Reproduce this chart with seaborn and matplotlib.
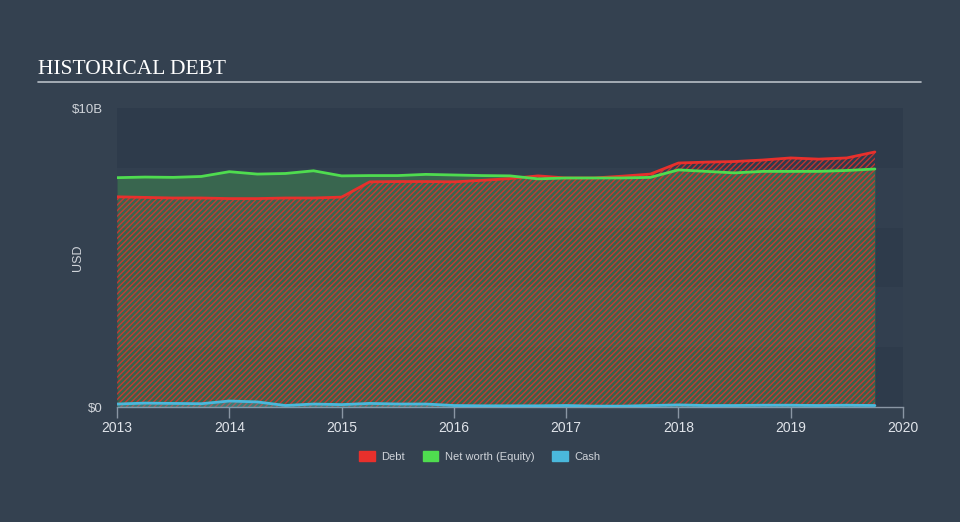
import matplotlib
matplotlib.use("Agg")
import matplotlib.pyplot as plt
import seaborn as sns
import pandas as pd
from matplotlib.patches import Patch

# quarterly points, decimal years
years = [2013.0, 2013.25, 2013.5, 2013.75, 2014.0, 2014.25, 2014.5, 2014.75,
         2015.0, 2015.25, 2015.5, 2015.75, 2016.0, 2016.25, 2016.5, 2016.75,
         2017.0, 2017.25, 2017.5, 2017.75, 2018.0, 2018.25, 2018.5, 2018.75,
         2019.0, 2019.25, 2019.5, 2019.75]

# values in $B
debt = [7.03, 7.01, 6.99, 6.99, 6.97, 6.97, 6.99, 6.99,
        7.02, 7.53, 7.54, 7.54, 7.53, 7.58, 7.64, 7.73,
        7.66, 7.66, 7.72, 7.79, 8.16, 8.19, 8.21, 8.26,
        8.33, 8.29, 8.33, 8.53]
equity = [7.67, 7.69, 7.68, 7.71, 7.87, 7.79, 7.81, 7.90,
          7.73, 7.74, 7.74, 7.78, 7.76, 7.74, 7.73, 7.63,
          7.66, 7.66, 7.66, 7.68, 7.93, 7.88, 7.83, 7.88,
          7.88, 7.88, 7.91, 7.96]
cash = [0.10, 0.13, 0.12, 0.11, 0.20, 0.17, 0.05, 0.10,
        0.08, 0.12, 0.10, 0.10, 0.05, 0.04, 0.04, 0.04,
        0.05, 0.03, 0.03, 0.05, 0.07, 0.05, 0.05, 0.06,
        0.06, 0.05, 0.06, 0.05]

xticks = [2013, 2014, 2015, 2016, 2017, 2018, 2019, 2020]
yticks = [0, 10]
ytick_labels = ["$0", "$10B"]

df = pd.DataFrame({"year": years, "Debt": debt, "Equity": equity, "Cash": cash})

bg = "#344150"
red = "#e8302c"
green = "#4fdc4f"
blue = "#4ab8dc"

sns.set_style("dark")
plt.rcParams["font.family"] = ["Liberation Sans", "DejaVu Sans"]
plt.rcParams["hatch.linewidth"] = 1.0
plt.rcParams["hatch.color"] = red

fig = plt.figure(figsize=(9.6, 5.22), dpi=100, facecolor=bg)
ax = fig.add_axes([0.1219, 0.2203, 0.8187, 0.5728])
ax.set_facecolor(bg)

# alternating horizontal bands
for i, lo in enumerate([0, 2, 4, 6, 8]):
    c = "#2e3b4b" if i % 2 == 0 else "#323f4f"
    ax.axhspan(lo, lo + 2, color=c, lw=0, zorder=0)

# fills
ax.fill_between(df["year"], 0, df["Equity"], color=green, alpha=0.25, lw=0, zorder=1)
ax.fill_between(df["year"], 0, df["Debt"], facecolor="none", edgecolor=red,
                hatch="//////", lw=0, alpha=0.8, zorder=2)
ax.fill_between(df["year"], 0, df["Cash"], color=blue, alpha=0.3, lw=0, zorder=3)

sns.lineplot(data=df, x="year", y="Debt", color=red, lw=2, ax=ax, zorder=4)
sns.lineplot(data=df, x="year", y="Equity", color=green, lw=2, ax=ax, zorder=5)
sns.lineplot(data=df, x="year", y="Cash", color=blue, lw=2, ax=ax, zorder=6)

ax.set_xlim(2013, 2020)
ax.set_ylim(0, 10)
ax.set_xticks(xticks)
ax.set_xticklabels([str(t) for t in xticks], color="#e0e4ea", fontsize=10)
ax.set_yticks(yticks)
ax.set_yticklabels(ytick_labels, color="#d0d4da", fontsize=9.5)
ax.tick_params(axis="x", length=8, color="#8a96a4", width=1, pad=2, bottom=True)
ax.tick_params(axis="y", length=0, pad=10)
ax.set_xlabel("")
ax.set_ylabel("USD", color="#d0d4da", fontsize=9)
ax.yaxis.set_label_coords(-0.042, 0.5)
ax.grid(False)
for s in ["top", "right", "left"]:
    ax.spines[s].set_visible(False)
ax.spines["bottom"].set_color("#8a96a4")
ax.spines["bottom"].set_linewidth(1)

# title and rule
fig.text(0.040, 0.858, "HISTORICAL DEBT", color="white", fontsize=15.5,
         family=["Liberation Serif", "DejaVu Serif"], va="baseline")
fig.add_artist(plt.Line2D([0.040, 0.959], [0.843, 0.843], color="#b8bec6", lw=1.2))

handles = [Patch(color=red, label="Debt"), Patch(color=green, label="Net worth (Equity)"),
           Patch(color=blue, label="Cash")]
leg = fig.legend(handles=handles, loc="center", bbox_to_anchor=(0.5, 0.125), ncol=3,
                 frameon=False, fontsize=8, handlelength=1.4, handleheight=1.0,
                 columnspacing=1.6, handletextpad=0.6)
for t in leg.get_texts():
    t.set_color("#d0d4da")

fig.savefig("out.png", dpi=100, facecolor=bg)
